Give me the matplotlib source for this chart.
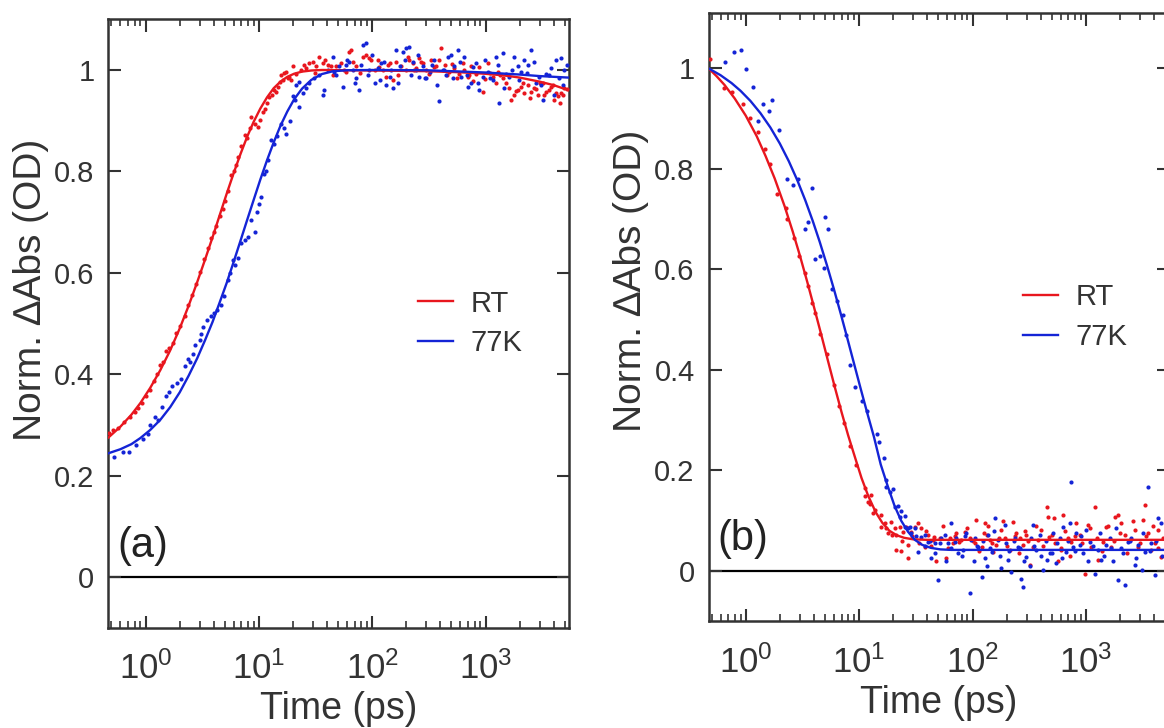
import matplotlib
matplotlib.use('Agg')
import matplotlib.pyplot as plt
from matplotlib.ticker import FixedLocator, FixedFormatter, LogLocator, NullFormatter

plt.rcParams['font.family'] = ['Liberation Sans', 'DejaVu Sans']
plt.rcParams['mathtext.default'] = 'regular'

RED = '#e8161e'
BLUE = '#1424d6'
DARK = '#333333'

# ---------------- panel (a): rise ----------------
a_rt_t = [0.48, 0.52, 0.57, 0.65, 0.73, 0.8, 0.86, 0.93, 1.01, 1.1, 1.19, 1.27, 1.34, 1.43,
          1.52, 1.62, 1.76, 1.84, 2.0, 2.21, 2.36, 2.55, 2.8, 3.05, 3.3, 3.55, 3.8, 4.0, 4.2,
          4.5, 4.8, 5.0, 5.3, 5.7, 6.0, 6.3, 6.6, 7.0, 7.5, 7.8, 8.3, 8.6, 9.2, 9.8, 10.2,
          10.8, 11.3, 11.8, 12.4, 13.0, 13.6, 14.2, 14.8, 15.2, 15.7, 16.3, 16.5, 17.4, 18.0,
          18.6, 19.3, 19.9, 21.3, 23.6, 26.1, 27.9, 29.9, 32.0, 34.2, 36.6, 40.6, 43.4, 48.0,
          53.2, 58.9, 63.0, 65.2, 72.1, 82.6, 88.3, 94.5, 105, 112, 124, 133, 142, 152, 162,
          180, 199, 213, 228, 244, 261, 279, 299, 331, 366, 405, 434, 480, 531, 588, 629, 697,
          745, 825, 944, 1045, 1157, 1281, 1417, 1517, 1679, 1795, 1923, 2056, 2202, 2355,
          2518, 2698, 2884, 3192, 3420, 3784, 4046, 4335, 4634, 4955]
a_rt_v = [0.284, 0.29, 0.294, 0.305, 0.316, 0.325, 0.333, 0.343, 0.356, 0.368, 0.386, 0.40,
          0.418, 0.425, 0.445, 0.452, 0.461, 0.481, 0.495, 0.514, 0.537, 0.556, 0.577, 0.602,
          0.627, 0.648, 0.669, 0.68, 0.692, 0.712, 0.725, 0.742, 0.762, 0.792, 0.80, 0.812,
          0.828, 0.851, 0.871, 0.865, 0.885, 0.908, 0.893, 0.888, 0.901, 0.918, 0.924, 0.935,
          0.947, 0.95, 0.96, 0.957, 0.967, 0.977, 0.99, 0.98, 0.994, 0.997, 0.984, 0.987,
          0.98, 1.007, 0.993, 1.0, 1.003, 1.013, 1.016, 1.007, 1.026, 1.013, 1.010, 1.007,
          1.007, 1.013, 0.997, 1.036, 1.039, 1.007, 1.026, 1.030, 1.023, 1.0, 1.020, 1.0,
          0.987, 1.013, 0.980, 1.016, 1.007, 1.0, 1.020, 1.013, 1.003, 1.023, 1.013, 1.0,
          1.020, 1.007, 1.043, 1.010, 0.997, 1.003, 0.993, 1.013, 0.987, 1.007, 0.993, 0.957,
          1.013, 0.987, 0.997, 0.984, 0.974, 0.941, 0.951, 0.961, 0.967, 0.954, 0.971, 0.957,
          0.964, 0.951, 0.974, 0.957, 0.967, 0.941, 0.948, 0.954, 0.964]
a_rt_t2 = [25, 31, 38, 45, 56, 68, 78, 98, 115, 138, 170, 205, 235, 270, 315, 350, 390, 455,
           510, 560, 650, 720, 780, 870, 990, 1100, 1230, 1350, 1600, 1850, 2120, 2450, 2800,
           3050, 3300, 3650, 3950, 4200, 4500, 4800, 5200]
a_rt_v2 = [1.01, 0.995, 1.02, 0.99, 1.0, 1.015, 0.995, 1.02, 1.005, 1.01, 0.99, 1.025, 1.0,
           1.015, 0.992, 1.005, 1.02, 0.99, 1.012, 0.985, 1.0, 0.99, 0.978, 1.005, 0.983,
           0.995, 0.975, 0.99, 0.965, 0.958, 0.975, 0.945, 0.962, 0.975, 0.95, 0.96, 0.97,
           0.955, 0.935, 0.95, 0.962]

a_77k_t = [0.53, 0.63, 0.72, 0.83, 0.95, 1.05, 1.1, 1.2, 1.3, 1.4, 1.52, 1.6, 1.7, 1.9, 2.07,
           2.22, 2.35, 2.46, 2.6, 2.73, 3.0, 3.1, 3.22, 3.45, 3.8, 4.0, 4.3, 4.67, 4.9, 5.35,
           5.6, 5.9, 6.2, 6.6, 7.0, 7.5, 8.0, 8.6, 9.2, 9.7, 10.0, 10.5, 11.2, 11.6, 12.0,
           12.8, 13.5, 14.5, 15.7, 16.5, 17.5, 18.8, 19.9, 20.7, 21.3, 22.5, 22.8, 24.4, 26.1,
           27.9, 30.9, 34.2, 36.6, 37.9, 40.6, 44.9, 46.4, 51.4, 55.0, 58.9, 63.0, 67.4, 72.1,
           77.1, 82.6, 88.3, 94.5, 105, 112, 120, 133, 142, 152, 162, 174, 186, 199, 213, 228,
           244, 261, 279, 299, 320, 354, 392, 419, 449, 497, 531, 569, 608, 650, 697, 745, 825,
           883, 944, 1045, 1157, 1239, 1324, 1417, 1517, 1622, 1795, 1923, 2056, 2202, 2355,
           2518, 2788, 2985, 3192, 3420, 3784, 4188, 4634, 4955]
a_77k_v = [0.236, 0.247, 0.247, 0.26, 0.273, 0.283, 0.30, 0.316, 0.31, 0.335, 0.356, 0.365,
           0.376, 0.383, 0.39, 0.416, 0.43, 0.425, 0.44, 0.458, 0.468, 0.48, 0.494, 0.507,
           0.514, 0.52, 0.527, 0.537, 0.555, 0.586, 0.60, 0.625, 0.615, 0.629, 0.658, 0.665,
           0.671, 0.704, 0.68, 0.72, 0.735, 0.749, 0.795, 0.80, 0.822, 0.861, 0.855, 0.87,
           0.894, 0.885, 0.874, 0.90, 0.948, 0.94, 0.971, 0.927, 0.977, 0.954, 0.964, 0.974,
           0.984, 0.990, 0.951, 0.961, 1.0, 1.026, 0.997, 1.007, 0.967, 1.010, 1.016, 1.0,
           0.984, 0.961, 1.049, 1.054, 1.0, 0.974, 1.003, 1.013, 0.971, 0.987, 0.964, 1.039,
           1.007, 1.036, 1.043, 1.046, 1.016, 1.0, 0.987, 1.007, 0.984, 0.997, 1.020, 0.938,
           1.0, 0.990, 1.030, 1.007, 1.039, 0.987, 1.026, 0.967, 0.974, 1.013, 0.961, 0.987,
           0.997, 0.980, 1.026, 0.934, 1.033, 0.993, 0.987, 1.026, 1.007, 0.997, 1.020, 1.010,
           1.039, 0.974, 0.987, 0.941, 0.993, 1.003, 1.020, 1.023, 1.0]
a_77k_t2 = [48, 60, 70, 80, 92, 100, 118, 128, 147, 168, 193, 220, 252, 290, 340, 375, 430,
            470, 520, 600, 680, 770, 860, 980, 1100, 1280, 1450, 1700, 1980, 2300, 2650, 3100,
            3600, 4000, 4400, 4800, 5200]
a_77k_v2 = [0.99, 1.02, 0.975, 1.01, 0.99, 1.03, 0.98, 1.015, 1.0, 0.975, 1.02, 0.99, 1.03,
            0.985, 1.01, 0.97, 1.0, 1.025, 0.985, 1.015, 0.99, 1.005, 0.975, 1.02, 0.985, 1.01,
            0.965, 1.0, 0.98, 0.995, 1.015, 0.97, 0.99, 0.95, 0.985, 0.97, 1.01]

a_rt_fit_t = [0.47, 0.6, 0.75, 0.9, 1.1, 1.35, 1.65, 2.0, 2.4, 2.85, 3.35, 3.9, 4.5, 5.2, 6.0,
              6.9, 7.9, 9.0, 10.3, 11.8, 13.5, 15.5, 17.8, 20.5, 24, 29, 36, 100, 300, 600,
              1000, 1500, 2000, 3000, 4000, 5400]
a_rt_fit_v = [0.275, 0.2965, 0.320, 0.343, 0.373, 0.408, 0.447, 0.490, 0.535, 0.581, 0.626,
              0.670, 0.713, 0.756, 0.797, 0.835, 0.869, 0.898, 0.924, 0.946, 0.964, 0.977,
              0.9865, 0.9927, 0.9968, 0.999, 1.0, 0.999, 0.9977, 0.9955, 0.9925, 0.989, 0.985,
              0.977, 0.970, 0.960]

a_77k_fit_t = [0.47, 0.6, 0.75, 0.9, 1.1, 1.35, 1.65, 2.0, 2.4, 2.85, 3.35, 3.9, 4.5, 5.2, 6.0,
               6.9, 7.9, 9.0, 10.3, 11.8, 13.5, 15.5, 17.8, 20.5, 24, 29, 36, 45, 60, 100, 300,
               600, 1000, 2000, 3000, 5400]
a_77k_fit_v = [0.244, 0.252, 0.262, 0.274, 0.29, 0.31, 0.335, 0.364, 0.397, 0.431, 0.467,
               0.503, 0.541, 0.580, 0.622, 0.664, 0.705, 0.744, 0.784, 0.822, 0.857, 0.890,
               0.918, 0.9425, 0.963, 0.9805, 0.992, 0.9975, 0.9995, 1.0, 0.9995, 0.997, 0.995,
               0.991, 0.988, 0.985]

# ---------------- panel (b): decay ----------------
b_rt_t = [0.483, 0.64, 0.762, 0.94, 1.08, 1.29, 1.48, 1.65, 1.89, 2.25, 2.33, 2.69, 2.98,
          3.31, 3.55, 3.81, 4.09, 4.54, 5.22, 6.01, 6.67, 7.41, 8.24, 9.47, 11.2, 11.3, 12.0,
          12.5, 12.8, 13.3, 13.9, 15.5, 15.7, 16.8, 17.2, 18.0, 19.1, 19.3, 20.6, 21.2, 21.3,
          22.8, 23.5, 24.4, 26.1, 27.0, 27.1, 28.9, 30.9, 33.1, 35.4, 37.9, 40.6, 44.9, 48.0,
          51.4, 58.9, 63.0, 67.4, 72.1, 79.8, 85.4, 94.5, 105, 108, 120, 128, 133, 142, 152,
          162, 180, 192, 213, 228, 244, 261, 279, 299, 320, 342, 378, 405, 449, 464, 497, 531,
          569, 608, 629, 697, 745, 825, 883, 977, 1045, 1119, 1197, 1281, 1417, 1517, 1679,
          1795, 1923, 2056, 2202, 2438, 2698, 2884, 3192, 3304, 3533, 3784, 4046, 4335, 4634]
b_rt_v = [1.018, 0.961, 0.952, 0.930, 0.902, 0.873, 0.840, 0.81, 0.75, 0.722, 0.701, 0.662,
          0.626, 0.592, 0.566, 0.534, 0.513, 0.471, 0.432, 0.371, 0.329, 0.294, 0.248, 0.21,
          0.166, 0.15, 0.138, 0.133, 0.151, 0.115, 0.122, 0.111, 0.088, 0.095, 0.086, 0.075,
          0.097, 0.072, 0.085, 0.072, 0.042, 0.088, 0.04, 0.078, 0.088, 0.025, 0.051, 0.078,
          0.088, 0.095, 0.085, 0.048, 0.072, 0.062, 0.019, 0.065, 0.025, 0.065, 0.055, 0.075,
          0.062, 0.078, 0.065, 0.055, 0.101, 0.048, 0.095, 0.072, 0.062, 0.038, 0.052, 0.081,
          0.065, 0.042, 0.098, 0.075, 0.065, 0.052, 0.072, 0.012, 0.048, 0.062, 0.081, 0.128,
          0.108, 0.072, 0.055, 0.019, 0.042, 0.111, 0.065, 0.058, 0.095, 0.072, -0.005, 0.091,
          0.048, 0.128, 0.022, 0.058, 0.088, 0.048, 0.108, 0.111, 0.095, 0.072, 0.062, 0.081,
          0.048, 0.101, 0.131, 0.075, 0.042, 0.055, 0.081, 0.028]
b_rt_t2 = [24, 29, 34, 39, 43, 46, 55, 61, 70, 76, 90, 100, 115, 125, 138, 148, 170, 185, 200,
           235, 255, 290, 310, 360, 420, 470, 520, 600, 660, 720, 800, 920, 1080, 1240, 1380,
           1580, 1750, 2000, 2300, 2600, 3000, 3400, 3900, 4300, 4800]
b_rt_v2 = [0.06, 0.07, 0.055, 0.08, 0.05, 0.068, 0.09, 0.045, 0.07, 0.058, 0.085, 0.06, 0.04,
           0.075, 0.09, 0.055, 0.065, 0.1, 0.05, 0.07, 0.035, 0.08, 0.06, 0.09, 0.05, 0.068,
           0.105, 0.045, 0.08, 0.03, 0.07, 0.055, 0.085, 0.065, 0.04, 0.09, 0.06, 0.075, 0.035,
           0.1, 0.055, 0.07, 0.09, 0.045, 0.065]

b_77k_t = [0.66, 0.79, 0.91, 1.01, 1.16, 1.29, 1.43, 1.59, 1.70, 1.96, 2.33, 2.59, 2.88, 3.31,
           3.55, 3.81, 4.09, 4.54, 4.87, 5.05, 5.34, 5.80, 6.44, 7.16, 7.68, 8.24, 9.15, 10.5,
           11.7, 14.4, 14.9, 16.6, 17.2, 17.4, 18.6, 19.8, 20.6, 21.9, 22.8, 23.5, 25.2, 25.2,
           27.0, 28.1, 28.9, 30.9, 33.1, 35.4, 37.9, 40.6, 43.4, 46.4, 49.7, 53.2, 56.9, 60.8,
           65.2, 69.7, 74.6, 82.6, 88.3, 94.5, 97.7, 105, 112, 120, 128, 137, 147, 157, 168,
           180, 192, 206, 220, 236, 252, 270, 279, 299, 320, 342, 366, 392, 419, 449, 480, 513,
           550, 588, 629, 673, 720, 745, 771, 825, 883, 944, 1010, 1081, 1197, 1281, 1371, 1517,
           1622, 1738, 1923, 2056, 2202, 2355, 2518, 2698, 2884, 3090, 3304, 3533, 3784, 4046,
           4335, 4634]
b_77k_v = [1.012, 1.032, 1.037, 0.999, 0.963, 0.895, 0.929, 0.916, 0.936, 0.878, 0.779, 0.768,
           0.779, 0.68, 0.694, 0.761, 0.621, 0.626, 0.603, 0.705, 0.68, 0.561, 0.537, 0.51,
           0.47, 0.41, 0.367, 0.339, 0.318, 0.272, 0.257, 0.225, 0.182, 0.168, 0.158, 0.163,
           0.128, 0.13, 0.108, 0.119, 0.109, 0.088, 0.085, 0.087, 0.075, 0.085, 0.038, 0.068,
           0.071, 0.058, 0.025, 0.055, -0.018, 0.065, 0.071, 0.055, 0.095, 0.058, 0.035, 0.042,
           0.075, -0.044, 0.062, 0.065, 0.048, -0.011, 0.025, 0.071, 0.038, 0.105, 0.062,
           0.005, 0.091, 0.022, -0.001, 0.065, 0.048, -0.015, -0.031, 0.028, 0.009, 0.091,
           0.042, 0.072, 0.002, 0.022, 0.035, 0.075, 0.015, 0.065, 0.088, 0.038, 0.095, 0.178,
           0.048, 0.075, 0.052, 0.035, 0.081, 0.058, -0.005, 0.042, 0.022, 0.052, 0.065, 0.019,
           -0.018, 0.045, -0.028, 0.058, 0.065, 0.012, 0.052, 0.002, 0.038, 0.168, 0.055,
           -0.008, 0.105, 0.095]
b_77k_t2 = [32, 38, 42, 47, 52, 58, 64, 72, 80, 86, 102, 110, 124, 134, 144, 155, 176, 196,
            210, 230, 260, 285, 330, 350, 400, 440, 500, 560, 620, 700, 800, 900, 1050, 1150,
            1330, 1450, 1680, 1850, 2120, 2450, 2750, 3200, 3650, 4150, 4700]
b_77k_v2 = [0.07, 0.05, 0.06, 0.035, 0.055, 0.02, 0.045, 0.065, 0.03, 0.07, 0.02, 0.05, 0.06,
            0.01, 0.045, 0.08, 0.03, 0.055, 0.04, 0.06, 0.045, 0.02, 0.065, 0.05, 0.03, 0.06,
            0.035, 0.055, 0.025, 0.06, 0.04, 0.07, 0.02, 0.05, 0.075, 0.03, 0.045, 0.085,
            0.035, 0.06, 0.025, 0.075, 0.04, 0.06, 0.03]

b_rt_fit_t = [0.47, 0.55, 0.65, 0.8, 1.0, 1.25, 1.5, 1.8, 2.2, 2.6, 3.0, 3.5, 4.0, 4.6, 5.3,
              6.1, 7.0, 8.0, 9.2, 10.5, 12.0, 14.0, 16.0, 18.5, 21.5, 25, 30, 40, 60, 200,
              1000, 5400]
b_rt_fit_v = [1.0, 0.985, 0.967, 0.940, 0.906, 0.865, 0.825, 0.781, 0.726, 0.675, 0.628, 0.574,
              0.525, 0.473, 0.419, 0.366, 0.316, 0.270, 0.226, 0.185, 0.150, 0.117, 0.096,
              0.080, 0.071, 0.066, 0.063, 0.062, 0.062, 0.062, 0.062, 0.062]

b_77k_fit_t = [0.47, 0.6, 0.75, 0.9, 1.1, 1.35, 1.65, 2.0, 2.4, 2.85, 3.35, 3.9, 4.5, 5.2, 6.0,
               6.9, 7.9, 9.0, 10.3, 11.8, 13.5, 15.5, 17.8, 20.5, 23.5, 27, 31, 36, 43, 52, 65,
               200, 1000, 5400]
b_77k_fit_v = [1.0, 0.9863, 0.9707, 0.9553, 0.9352, 0.9107, 0.8823, 0.8503, 0.8151, 0.7774,
               0.7376, 0.6964, 0.6543, 0.6084, 0.5603, 0.5110, 0.4616, 0.4133, 0.3634, 0.3141,
               0.2672, 0.212, 0.170, 0.130, 0.100, 0.078, 0.062, 0.052, 0.046, 0.043, 0.042,
               0.042, 0.042, 0.042]

x_ticks = [1, 10, 100, 1000]
x_labels = ['$10^{0}$', '$10^{1}$', '$10^{2}$', '$10^{3}$']
y_ticks = [0, 0.2, 0.4, 0.6, 0.8, 1.0]
y_labels = ['0', '0.2', '0.4', '0.6', '0.8', '1']


def style_axes(ax, ytop):
    ax.set_xscale('log')
    ax.set_xlim(0.47, 5400)
    ax.set_ylim(-0.1, ytop)
    ax.xaxis.set_major_locator(FixedLocator(x_ticks))
    ax.xaxis.set_major_formatter(FixedFormatter(x_labels))
    ax.xaxis.set_minor_locator(LogLocator(base=10, subs=range(2, 10), numticks=20))
    ax.xaxis.set_minor_formatter(NullFormatter())
    ax.yaxis.set_major_locator(FixedLocator(y_ticks))
    ax.yaxis.set_major_formatter(FixedFormatter(y_labels))
    ax.tick_params(which='both', direction='in', top=True, right=True, color=DARK)
    ax.tick_params(which='major', length=9, width=1.5, labelsize=21, pad=10, labelcolor=DARK)
    ax.tick_params(axis='x', which='major', labelsize=25, pad=17)
    ax.tick_params(which='minor', length=5, width=1.2)
    for s in ax.spines.values():
        s.set_linewidth(1.8)
        s.set_color(DARK)
    ax.axhline(0, color='black', lw=1.6, zorder=1)
    ax.set_xlabel('Time (ps)', fontsize=27, color=DARK, labelpad=4)
    ax.set_ylabel('Norm. \u2206Abs (OD)', fontsize=28, color=DARK)


def draw(ax, pts, fits, tag, leg_x, ylab_y, ytop):
    for t, v, c in pts:
        ax.plot(t, v, 'o', color=c, ms=3.0, mew=0, zorder=3)
    handles = []
    for t, v, c in fits:
        h, = ax.plot(t, v, '-', color=c, lw=1.7, zorder=4)
        handles.append(h)
    style_axes(ax, ytop)
    ax.yaxis.set_label_coords(-0.13, ylab_y)
    ax.legend(handles, ['RT', '77K'], loc='center left', bbox_to_anchor=(leg_x, 0.5),
              frameon=False, fontsize=21, handlelength=1.2, handletextpad=0.6,
              labelspacing=0.4, borderpad=0, borderaxespad=0, labelcolor=DARK)
    ax.text(0.02, 0.135, tag, transform=ax.transAxes, fontsize=30, color='#222222',
            ha='left', va='center')


fig = plt.figure(figsize=(11.64, 7.28), dpi=100)
ax_a = fig.add_axes([0.0931, 0.1378, 0.3954, 0.8357])
ax_b = fig.add_axes([0.6087, 0.1466, 0.3956, 0.8355])

draw(ax_a,
     [(a_rt_t + a_rt_t2, a_rt_v + a_rt_v2, RED), (a_77k_t + a_77k_t2, a_77k_v + a_77k_v2, BLUE)],
     [(a_rt_fit_t, a_rt_fit_v, RED), (a_77k_fit_t, a_77k_fit_v, BLUE)],
     '(a)', 0.673, 0.555, 1.1)
draw(ax_b,
     [(b_rt_t + b_rt_t2, b_rt_v + b_rt_v2, RED), (b_77k_t + b_77k_t2, b_77k_v + b_77k_v2, BLUE)],
     [(b_rt_fit_t, b_rt_fit_v, RED), (b_77k_fit_t, b_77k_fit_v, BLUE)],
     '(b)', 0.683, 0.559, 1.11)

fig.savefig('out.png', dpi=100)
